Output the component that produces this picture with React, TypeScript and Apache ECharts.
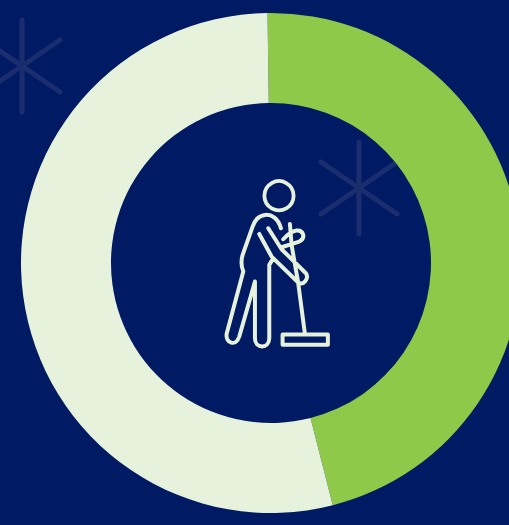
import React, { useEffect, useRef } from "react";
import * as echarts from "echarts";

const sliceNames = ["Share A", "Share B"];
const sliceValues = [46.25, 53.75];
const sliceColors = ["#8fc949", "#e7f2dc"];

const BACKGROUND = "#001a63";
const STAR_COLOR = "#1a2e6f";
const ICON_COLOR = "#e7f2dc";

// Line-art figure sweeping with a push broom, drawn on a 3x grid.
const FIGURE_PATH = [
  // arm
  "M205 205 L245 268 L318 340 C328 355 312 378 295 368 L215 290 L178 222",
  // torso and legs
  "M243 205 C235 175 215 163 195 165 C175 167 165 180 158 200 L128 285 C122 305 124 320 130 335",
  "L80 522 C76 550 108 562 118 530 L165 365 L165 535 C165 568 208 568 208 535 L208 315 L220 295",
  // hand around the handle
  "M245 262 L298 245 C318 235 312 210 290 212 C275 214 262 225 250 238",
  // handle
  "M270 192 L275 255 L295 370 L315 522",
  // broom head
  "M248 524 L384 524 L384 555 L248 555 Z",
].join(" ");

echarts.graphic.registerShape("sweeperFigure", echarts.graphic.extendPath(FIGURE_PATH, {}) as any);

function star(cx: number, cy: number, color: string) {
  const arm = (dx: number, dy: number) => ({
    type: "line",
    shape: { x1: cx, y1: cy, x2: cx + dx, y2: cy + dy },
    style: { stroke: color, lineWidth: 5, lineCap: "round" },
    silent: true,
  });
  return [arm(0, -46), arm(0, 46), arm(38, -26), arm(38, 26), arm(-38, -26), arm(-38, 26)];
}

export default function App() {
  const ref = useRef<HTMLDivElement>(null);

  useEffect(() => {
    document.body.style.margin = "0";
    const chart = echarts.init(ref.current!, null, { renderer: "svg" });
    chart.setOption({
      animation: false,
      backgroundColor: BACKGROUND,
      graphic: [
        // Background stars sit beneath the ring.
        { type: "group", z: -1, children: [...star(22, 66, STAR_COLOR), ...star(359, 188, STAR_COLOR)] },
        {
          type: "group",
          x: 200,
          y: 160,
          z: 10,
          children: [
            {
              type: "circle",
              shape: { cx: 79, cy: 35.7, r: 14.6 },
              style: { fill: "none", stroke: ICON_COLOR, lineWidth: 3.8 },
            },
            {
              type: "sweeperFigure",
              scaleX: 1 / 3,
              scaleY: 1 / 3,
              style: { fill: "none", stroke: ICON_COLOR, lineWidth: 12, lineCap: "round", lineJoin: "round" },
            },
          ],
        },
      ],
      series: [
        {
          type: "pie",
          z: 2,
          center: [271, 263],
          radius: [160, 250],
          startAngle: 90.8,
          silent: true,
          label: { show: false },
          labelLine: { show: false },
          data: sliceNames.map((name, i) => ({
            name,
            value: sliceValues[i],
            itemStyle: { color: sliceColors[i] },
          })),
        },
      ],
    });
    return () => chart.dispose();
  }, []);

  return <div ref={ref} style={{ width: 509, height: 525 }} />;
}
